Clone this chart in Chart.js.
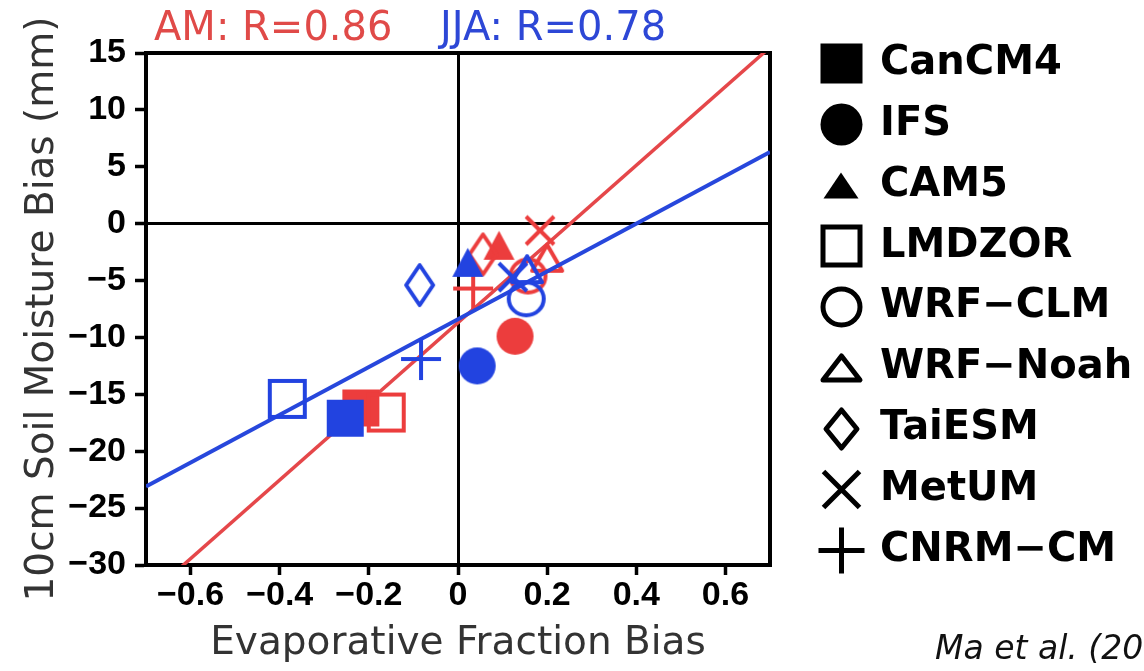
<!DOCTYPE html>
<html>
<head>
<meta charset="utf-8">
<script src="https://cdn.jsdelivr.net/npm/chart.js@4.4.1/dist/chart.umd.min.js"></script>
<style>
  html, body { margin: 0; padding: 0; background: #ffffff; }
  #wrap { width: 1144px; height: 671px; }
</style>
</head>
<body>
<div id="wrap"><canvas id="chart" width="1144" height="671"></canvas></div>
<script>
// Models and their marker kinds (legend order)
const models = ['CanCM4', 'IFS', 'CAM5', 'LMDZOR', 'WRF\u2212CLM', 'WRF\u2212Noah', 'TaiESM', 'MetUM', 'CNRM\u2212CM'];
const markerKinds = ['square', 'circle', 'triangle', 'squareOpen', 'circleOpen', 'triangleOpen', 'diamond', 'cross', 'plus'];

// AM (spring) biases: evaporative fraction and 10cm soil moisture (mm)
const amEF = [-0.218, 0.128, 0.092, -0.161, 0.157, 0.200, 0.056, 0.184, 0.034];
const amSM = [-16.2, -9.9, -1.9, -16.6, -4.6, -3.0, -2.7, -0.6, -5.7];

// JJA (summer) biases
const jjaEF = [-0.253, 0.043, 0.022, -0.383, 0.153, 0.155, -0.086, 0.123, -0.083];
const jjaSM = [-17.1, -12.5, -3.4, -15.4, -6.6, -4.0, -5.4, -4.7, -11.9];

// Regression line end points across the x range
const fitEF = [-0.7, 0.7];
const amFitSM = [-32.9, 15.5];
const jjaFitSM = [-23.1, 6.3];

// Correlation coefficients
const amR = 0.86;
const jjaR = 0.78;

// Axis ticks
const xTicks = [-0.6, -0.4, -0.2, 0, 0.2, 0.4, 0.6];
const yTicks = [15, 10, 5, 0, -5, -10, -15, -20, -25, -30];

const credit = 'Ma et al. (2018)';

const RED = '#ec3d3d';
const BLUE = '#2243e0';
const RED_LINE = '#e5474a';
const BLUE_LINE = '#2747dc';
const RED_TEXT = '#e04a48';
const BLUE_TEXT = '#2d47d6';

// marker outer sizes [width, height]
const PLOT_SIZES = {
  square: [37, 37], circle: [37, 37], triangle: [31, 29], squareOpen: [39, 40],
  circleOpen: [39, 37], triangleOpen: [34, 30], diamond: [31, 44], cross: [28, 28], plus: [40, 42]
};
const LEGEND_SIZES = {
  square: [42, 40], circle: [42, 42], triangle: [35, 26], squareOpen: [42, 43],
  circleOpen: [42, 41], triangleOpen: [42, 29], diamond: [36, 43], cross: [36, 36], plus: [46, 46]
};

function makeMarker(kind, color, sizes, lw) {
  const [w, h] = sizes[kind];
  const c = document.createElement('canvas');
  c.width = Math.ceil(w + lw + 4);
  c.height = Math.ceil(h + lw + 4);
  const g = c.getContext('2d');
  const cx = c.width / 2, cy = c.height / 2;
  const i = lw / 2;
  g.fillStyle = color;
  g.strokeStyle = color;
  g.lineWidth = lw;
  g.lineJoin = 'miter';
  g.beginPath();
  switch (kind) {
    case 'square':
      g.fillRect(cx - w / 2, cy - h / 2, w, h);
      break;
    case 'squareOpen':
      g.strokeRect(cx - w / 2 + i, cy - h / 2 + i, w - lw, h - lw);
      break;
    case 'circle':
      g.ellipse(cx, cy, w / 2, h / 2, 0, 0, Math.PI * 2);
      g.fill();
      break;
    case 'circleOpen':
      g.ellipse(cx, cy, w / 2 - i, h / 2 - i, 0, 0, Math.PI * 2);
      g.stroke();
      break;
    case 'triangle':
      g.moveTo(cx, cy - h / 2);
      g.lineTo(cx + w / 2, cy + h / 2);
      g.lineTo(cx - w / 2, cy + h / 2);
      g.closePath();
      g.fill();
      break;
    case 'triangleOpen':
      g.lineJoin = 'round';
      g.moveTo(cx, cy - h / 2 + i);
      g.lineTo(cx + w / 2 - i, cy + h / 2 - i);
      g.lineTo(cx - w / 2 + i, cy + h / 2 - i);
      g.closePath();
      g.stroke();
      break;
    case 'diamond':
      g.lineJoin = 'round';
      g.moveTo(cx, cy - h / 2 + i);
      g.lineTo(cx + w / 2 - i, cy);
      g.lineTo(cx, cy + h / 2 - i);
      g.lineTo(cx - w / 2 + i, cy);
      g.closePath();
      g.stroke();
      break;
    case 'cross':
      g.moveTo(cx - w / 2, cy - h / 2); g.lineTo(cx + w / 2, cy + h / 2);
      g.moveTo(cx + w / 2, cy - h / 2); g.lineTo(cx - w / 2, cy + h / 2);
      g.stroke();
      break;
    case 'plus':
      g.moveTo(cx - w / 2, cy); g.lineTo(cx + w / 2, cy);
      g.moveTo(cx, cy - h / 2); g.lineTo(cx, cy + h / 2);
      g.stroke();
      break;
  }
  return c;
}

const amMarkers = markerKinds.map(k => makeMarker(k, RED, PLOT_SIZES, 4));
const jjaMarkers = markerKinds.map(k => makeMarker(k, BLUE, PLOT_SIZES, 4));
const legendMarkers = markerKinds.map(k => makeMarker(k, '#000', LEGEND_SIZES, 5));

const minusFmt = v => (v < 0 ? '\u2212' : '') + Math.abs(v);
const fmtX = v => v === 0 ? '0' : (v < 0 ? '\u2212' : '') + Math.abs(v).toFixed(1);

const zeroLine = ctx => (ctx.tick && ctx.tick.value === 0) ? '#000' : 'rgba(0,0,0,0)';

// Headline correlations, model legend and source note
const figureText = {
  id: 'figureText',
  afterDraw(chart) {
    const g = chart.ctx;
    const area = chart.chartArea;
    g.save();
    g.textAlign = 'left';
    g.textBaseline = 'alphabetic';
    g.font = '40px "DejaVu Sans"';
    g.fillStyle = RED_TEXT;
    g.fillText('AM: R=' + amR.toFixed(2), area.left + 8, 40);
    g.fillStyle = BLUE_TEXT;
    g.fillText('JJA: R=' + jjaR.toFixed(2), area.left + 294, 40);

    g.font = 'bold 40px "DejaVu Sans"';
    g.textBaseline = 'middle';
    g.fillStyle = '#000';
    const mx = area.right + 71;
    models.forEach((name, k) => {
      const y = 63.5 + k * 60.9;
      const img = legendMarkers[k];
      g.drawImage(img, Math.round(mx - img.width / 2), Math.round(y - img.height / 2));
      g.fillText(name, area.right + 110, y);
    });

    g.font = 'italic 33px "DejaVu Sans"';
    g.textBaseline = 'alphabetic';
    g.fillStyle = '#111';
    g.fillText(credit, 935, 659);
    g.restore();
  }
};

const tickFont = { family: '"Liberation Sans", Arial, sans-serif', size: 34, weight: 'bold' };
const titleFont = { family: '"DejaVu Sans", sans-serif', size: 39, lineHeight: 1.2 };

new Chart(document.getElementById('chart'), {
  data: {
    datasets: [
      {
        type: 'scatter',
        label: 'JJA',
        data: jjaEF.map((x, k) => ({ x, y: jjaSM[k] })),
        pointStyle: ctx => jjaMarkers[ctx.dataIndex],
        pointRadius: 12,
        xAxisID: 'x', yAxisID: 'y'
      },
      {
        type: 'line',
        label: 'JJA fit',
        data: fitEF.map((x, k) => ({ x, y: jjaFitSM[k] })),
        borderColor: BLUE_LINE,
        borderWidth: 4,
        pointRadius: 0,
        fill: false,
        xAxisID: 'x', yAxisID: 'y'
      },
      {
        type: 'scatter',
        label: 'AM',
        data: amEF.map((x, k) => ({ x, y: amSM[k] })),
        pointStyle: ctx => amMarkers[ctx.dataIndex],
        pointRadius: 12,
        xAxisID: 'x', yAxisID: 'y'
      },
      {
        type: 'line',
        label: 'AM fit',
        data: fitEF.map((x, k) => ({ x, y: amFitSM[k] })),
        borderColor: RED_LINE,
        borderWidth: 3.5,
        pointRadius: 0,
        fill: false,
        xAxisID: 'x', yAxisID: 'y'
      }
    ]
  },
  options: {
    responsive: false,
    devicePixelRatio: 1,
    animation: false,
    events: [],
    layout: { padding: { left: 0, top: 53, right: 374, bottom: 0 } },
    plugins: { legend: { display: false }, tooltip: { enabled: false } },
    scales: {
      x: {
        type: 'linear', position: 'bottom', min: -0.7, max: 0.7,
        afterBuildTicks: s => { s.ticks = xTicks.map(v => ({ value: v })); },
        afterFit: s => { s.height = 106; },
        ticks: { callback: fmtX, font: tickFont, color: '#000', padding: 0, maxRotation: 0, autoSkip: false },
        grid: { drawOnChartArea: true, color: zeroLine, lineWidth: 3, tickColor: '#000', tickWidth: 3.5, tickLength: 10 },
        border: { display: true, color: '#000', width: 4 },
        title: { display: true, text: 'Evaporative Fraction Bias', color: '#333', font: titleFont, padding: { top: 0, bottom: 4 } }
      },
      y: {
        type: 'linear', position: 'left', min: -30, max: 15,
        afterBuildTicks: s => { s.ticks = yTicks.map(v => ({ value: v })); },
        afterFit: s => { s.width = 146; },
        ticks: { callback: minusFmt, font: tickFont, color: '#000', padding: 9, autoSkip: false },
        grid: { drawOnChartArea: true, color: zeroLine, lineWidth: 3, tickColor: '#000', tickWidth: 3.5, tickLength: 11 },
        border: { display: true, color: '#000', width: 4 },
        title: { display: true, text: '10cm Soil Moisture Bias (mm)', color: '#333', font: titleFont, padding: { top: 19, bottom: 0 } }
      },
      frameTop: {
        type: 'linear', position: 'top', display: true, min: 0, max: 1,
        afterFit: s => { s.height = 0; },
        ticks: { display: false }, grid: { display: false },
        border: { display: true, color: '#000', width: 4 }
      },
      frameRight: {
        type: 'linear', position: 'right', display: true, min: 0, max: 1,
        afterFit: s => { s.width = 0; },
        ticks: { display: false }, grid: { display: false },
        border: { display: true, color: '#000', width: 4 }
      }
    }
  },
  plugins: [figureText]
});
</script>
</body>
</html>
